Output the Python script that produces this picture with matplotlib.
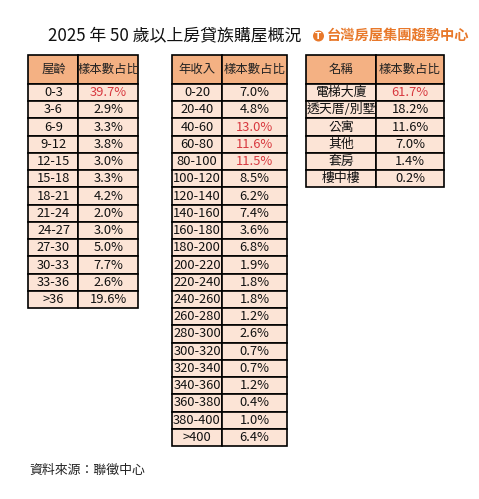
import matplotlib
matplotlib.use("Agg")
import matplotlib.pyplot as plt
from matplotlib.patches import Rectangle, Circle

plt.rcParams['font.family'] = ['Noto Sans CJK TC', 'DejaVu Sans']

# data
age_labels = ["0-3", "3-6", "6-9", "9-12", "12-15", "15-18", "18-21",
              "21-24", "24-27", "27-30", "30-33", "33-36", ">36"]
age_share = ["39.7%", "2.9%", "3.3%", "3.8%", "3.0%", "3.3%", "4.2%",
             "2.0%", "3.0%", "5.0%", "7.7%", "2.6%", "19.6%"]
age_red = [0]

income_labels = ["0-20", "20-40", "40-60", "60-80", "80-100", "100-120",
                 "120-140", "140-160", "160-180", "180-200", "200-220",
                 "220-240", "240-260", "260-280", "280-300", "300-320",
                 "320-340", "340-360", "360-380", "380-400", ">400"]
income_share = ["7.0%", "4.8%", "13.0%", "11.6%", "11.5%", "8.5%", "6.2%",
                "7.4%", "3.6%", "6.8%", "1.9%", "1.8%", "1.8%", "1.2%",
                "2.6%", "0.7%", "0.7%", "1.2%", "0.4%", "1.0%", "6.4%"]
income_red = [2, 3, 4]

type_labels = ["電梯大廈", "透天厝/別墅", "公寓", "其他", "套房", "樓中樓"]
type_share = ["61.7%", "18.2%", "11.6%", "7.0%", "1.4%", "0.2%"]
type_red = [0]

HEAD_BG = "#F4B183"
CELL_BG = "#FCE4D6"
RED = "#D8393F"

fig = plt.figure(figsize=(4.79, 4.99), dpi=100)
ax = fig.add_axes([0, 0, 1, 1])
ax.set_xlim(0, 479)
ax.set_ylim(499, 0)
ax.axis("off")

top = 54.5
head_h = 29.5
row_h = 17.24


def draw_table(x0, w1, w2, head1, labels, values, reds):
    # header
    for x, w, txt in [(x0, w1, head1), (x0 + w1, w2, "樣本數占比")]:
        ax.add_patch(Rectangle((x, top), w, head_h, facecolor=HEAD_BG,
                               edgecolor="black", lw=1.2))
        ax.text(x + w / 2, top + head_h / 2, txt, ha="center", va="center",
                fontsize=8.9, color="#222222")
    for i, (lab, val) in enumerate(zip(labels, values)):
        y = top + head_h + i * row_h
        ax.add_patch(Rectangle((x0, y), w1, row_h, facecolor=CELL_BG,
                               edgecolor="black", lw=1.2))
        ax.add_patch(Rectangle((x0 + w1, y), w2, row_h, facecolor=CELL_BG,
                               edgecolor="black", lw=1.2))
        ax.text(x0 + w1 / 2, y + row_h / 2, lab, ha="center", va="center",
                fontsize=9.3, color="#111111")
        ax.text(x0 + w1 + w2 / 2, y + row_h / 2, val, ha="center",
                va="center", fontsize=9.3,
                color=RED if i in reds else "#111111")


draw_table(28.5, 50, 60, "屋齡", age_labels, age_share, age_red)
draw_table(172, 50, 65, "年收入", income_labels, income_share, income_red)
draw_table(306, 70, 68, "名稱", type_labels, type_share, type_red)

# title
ax.text(175, 35, "2025 年 50 歲以上房貸族購屋概況", ha="center",
        va="center", fontsize=12.2, color="#111111")

# logo
ax.add_patch(Circle((318.5, 36), 5.5, facecolor="#E8782A", edgecolor="none"))
ax.text(318.5, 36.5, "T", ha="center", va="center", fontsize=6.5,
        color="white", fontweight="bold", family="DejaVu Sans")
ax.text(327, 36, "台灣房屋集團趨勢中心", ha="left", va="center",
        fontsize=10.3, fontweight="bold", color="#E8782A")

# source
ax.text(29, 470, "資料來源：聯徵中心", ha="left", va="center",
        fontsize=9.3, color="#222222")

fig.savefig("out.png", dpi=100)
